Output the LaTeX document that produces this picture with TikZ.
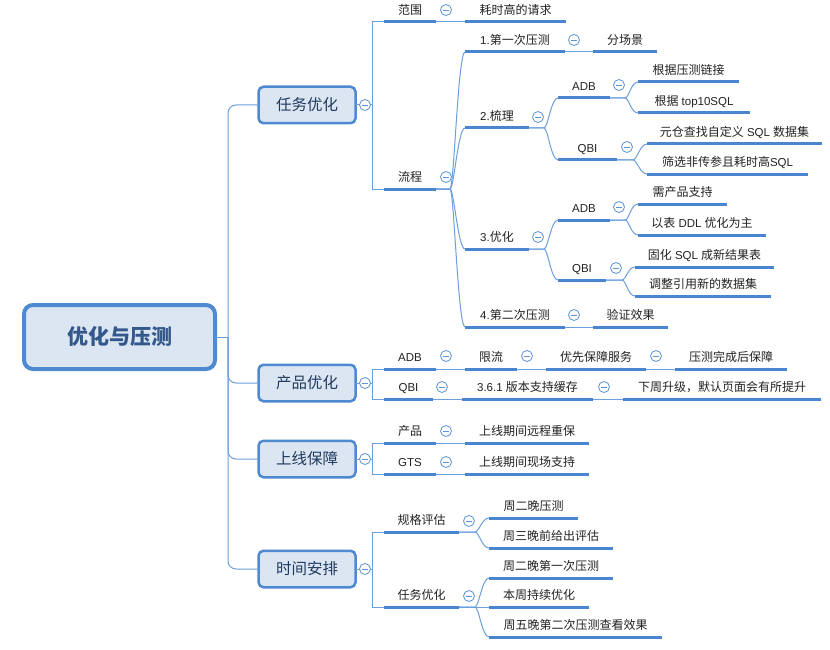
\documentclass[tikz,border=0pt]{standalone}
\usepackage{fontspec}
\setmainfont{Noto Sans CJK SC}
\newfontfamily\latf{Liberation Sans}
\newcommand\lat[1]{{\latf\fontsize{11.5pt}{14pt}\selectfont #1}}
\definecolor{ul}{HTML}{4A86CF}
\definecolor{cn}{HTML}{6C9FDC}
\definecolor{cc}{HTML}{5B93D6}
\definecolor{bd}{HTML}{4F8AD0}
\definecolor{bf}{HTML}{DCE6F2}
\definecolor{tx}{HTML}{222222}
\definecolor{t1}{HTML}{1F3A5F}
\definecolor{t0}{HTML}{34588C}
\newcommand\fsleaf{\fontsize{12pt}{14pt}\selectfont}
\newcommand\fsone{\fontsize{15.5pt}{18pt}\selectfont}
\newcommand\fsroot{\fontsize{21pt}{24pt}\selectfont}
\newcommand\mleaf[5]{\pgfmathsetmacro\mlw{#3-#2}\pgfmathsetmacro\mlc{(#2+#3)/2}%
  \node[leaf, minimum width=\mlw pt] (#1) at (\mlc,#4) {#5};
  \draw[uline] (#1.south west) -- (#1.south east);}
\newcommand\mfan[3]{\draw[conn] (#1.south east) -- ++(#2,0) .. controls +(4,0) and +(-7,0) .. (#3.south west);}
\newcommand\mlink[2]{\draw[conn] (#1.south east) -- (#2.south west);}
\newcommand\mcirc[3]{\node[circ] (#1) at (#2,#3) {};}
\begin{document}
\begin{tikzpicture}[x=1pt,y=-1pt,
 conn/.style={draw=cn, line width=1pt},
 uline/.style={draw=ul, line width=3pt},
 leaf/.style={anchor=south, inner xsep=0pt, inner ysep=5.5pt, outer sep=0pt, text height=9pt, text depth=2pt, font=\fsleaf, text=tx},
 circ/.style={circle, draw=cc, fill=white, line width=0.8pt, minimum size=11pt, inner sep=0pt,
   path picture={\draw[cc, line width=0.8pt] ([xshift=-2.8pt]path picture bounding box.center) -- ([xshift=2.8pt]path picture bounding box.center);}},
 l1/.style={draw=bd, fill=bf, line width=2.5pt, rounded corners=5pt, minimum width=97pt, minimum height=36.5pt, inner sep=0pt, outer sep=0pt, font=\fsone, text=t1},
 rootbox/.style={draw=bd, fill=bf, line width=4pt, rounded corners=9pt, minimum width=191pt, minimum height=64pt, inner sep=0pt, outer sep=0pt, font=\fsroot\bfseries, text=t0}
]
\useasboundingbox (0,0) rectangle (830,650);
\fill[white] (0,0) rectangle (830,650);

% root and level 1
\node[rootbox] (root) at (119.5,337) {优化与压测};
\node[l1] (rw) at (307,105) {任务优化};
\node[l1] (cp) at (307,383) {产品优化};
\node[l1] (sx) at (307,459) {上线保障};
\node[l1] (sj) at (307,569) {时间安排};
\coordinate (rt) at (228,337);
\draw[conn] (root.east) -- (rt);
\draw[conn, rounded corners=8pt] (rt) |- (rw.west);
\draw[conn, rounded corners=8pt] (rt) |- (cp.west);
\draw[conn, rounded corners=8pt] (rt) |- (sx.west);
\draw[conn, rounded corners=8pt] (rt) |- (sj.west);

% 任务优化
\mleaf{fw}{384}{436}{22}{范围}
\mleaf{hsg}{465}{566}{22}{耗时高的请求}
\mleaf{lc}{384}{436}{189}{流程}
\mleaf{s1}{465}{565}{52}{\lat{1.}第一次压测}
\mleaf{fcj}{593}{657}{52}{分场景}
\mleaf{s2}{465}{529}{128}{\lat{2.}梳理}
\mleaf{s2a}{558}{610}{98}{\lat{ADB}}
\mleaf{s2aa}{638}{739}{82}{根据压测链接}
\mleaf{s2ab}{638}{750}{113}{根据\lat{ top10SQL}}
\mleaf{s2q}{558}{617}{160}{\lat{QBI}}
\mleaf{s2qa}{647}{822}{144}{元仓查找自定义\lat{ SQL }数据集}
\mleaf{s2qb}{647}{808}{174}{筛选非传参且耗时高\lat{SQL}}
\mleaf{s3}{465}{529}{249}{\lat{3.}优化}
\mleaf{s3a}{558}{610}{220}{\lat{ADB}}
\mleaf{s3aa}{638}{727}{204}{需产品支持}
\mleaf{s3ab}{638}{766}{235}{以表\lat{ DDL }优化为主}
\mleaf{s3q}{558}{606}{280}{\lat{QBI}}
\mleaf{s3qa}{635}{774}{267}{固化\lat{ SQL }成新结果表}
\mleaf{s3qb}{635}{771}{296}{调整引用新的数据集}
\mleaf{s4}{465}{565}{327}{\lat{4.}第二次压测}
\mleaf{yz}{593}{668}{327}{验证效果}
\coordinate (j1) at (372,105);
\draw[conn] (rw.east) -- (j1);
\draw[conn] (j1) |- (fw.south west);
\draw[conn] (j1) |- (lc.south west);
\mlink{fw}{hsg}
\mfan{lc}{14}{s1}
\mfan{lc}{14}{s2}
\mfan{lc}{14}{s3}
\mfan{lc}{14}{s4}
\mlink{s1}{fcj}
\mlink{s4}{yz}
\mfan{s2}{15}{s2a}
\mfan{s2}{15}{s2q}
\mfan{s2a}{15}{s2aa}
\mfan{s2a}{15}{s2ab}
\mfan{s2q}{16}{s2qa}
\mfan{s2q}{16}{s2qb}
\mfan{s3}{15}{s3a}
\mfan{s3}{15}{s3q}
\mfan{s3a}{15}{s3aa}
\mfan{s3a}{15}{s3ab}
\mfan{s3q}{16}{s3qa}
\mfan{s3q}{16}{s3qb}
\mcirc{c0}{365}{105}
\mcirc{c1}{446}{10}
\mcirc{c2}{446}{177}
\mcirc{c3}{574}{40}
\mcirc{c4}{538}{117}
\mcirc{c5}{619}{85}
\mcirc{c6}{627}{147}
\mcirc{c7}{538}{237}
\mcirc{c8}{619}{207}
\mcirc{c9}{616}{268}
\mcirc{c10}{574}{315}

% 产品优化
\mleaf{cpa}{384}{436}{369}{\lat{ADB}}
\mleaf{xl}{465}{517}{369}{限流}
\mleaf{yx}{546}{646}{369}{优先保障服务}
\mleaf{yc}{675}{787}{369}{压测完成后保障}
\mleaf{cpq}{384}{433}{399}{\lat{QBI}}
\mleaf{vc}{462}{593}{399}{\lat{3.6.1 }版本支持缓存}
\mleaf{xz}{623}{821}{399}{下周升级，默认页面会有所提升}
\coordinate (j2) at (372,383);
\draw[conn] (cp.east) -- (j2);
\draw[conn] (j2) |- (cpa.south west);
\draw[conn] (j2) |- (cpq.south west);
\mlink{cpa}{xl}
\mlink{xl}{yx}
\mlink{yx}{yc}
\mlink{cpq}{vc}
\mlink{vc}{xz}
\mcirc{c11}{365}{383}
\mcirc{c12}{446}{356}
\mcirc{c13}{527}{356}
\mcirc{c14}{656}{356}
\mcirc{c15}{442}{387}
\mcirc{c16}{604}{387}

% 上线保障
\mleaf{sxp}{384}{436}{443}{产品}
\mleaf{sxpa}{465}{589}{443}{上线期间远程重保}
\mleaf{sxg}{384}{436}{474}{\lat{GTS}}
\mleaf{sxga}{465}{589}{474}{上线期间现场支持}
\coordinate (j3) at (372,459);
\draw[conn] (sx.east) -- (j3);
\draw[conn] (j3) |- (sxp.south west);
\draw[conn] (j3) |- (sxg.south west);
\mlink{sxp}{sxpa}
\mlink{sxg}{sxga}
\mcirc{c17}{365}{459}
\mcirc{c18}{446}{431}
\mcirc{c19}{446}{462}

% 时间安排
\mleaf{gg}{384}{459}{532}{规格评估}
\mleaf{gga}{489}{578}{518}{周二晚压测}
\mleaf{ggb}{489}{613}{548}{周三晚前给出评估}
\mleaf{ry}{384}{459}{607}{任务优化}
\mleaf{rya}{489}{613}{578}{周二晚第一次压测}
\mleaf{ryb}{489}{589}{607}{本周持续优化}
\mleaf{ryc}{489}{662}{637}{周五晚第二次压测查看效果}
\coordinate (j4) at (372,569);
\draw[conn] (sj.east) -- (j4);
\draw[conn] (j4) |- (gg.south west);
\draw[conn] (j4) |- (ry.south west);
\mfan{gg}{16}{gga}
\mfan{gg}{16}{ggb}
\mfan{ry}{16}{rya}
\mlink{ry}{ryb}
\mfan{ry}{16}{ryc}
\mcirc{c20}{365}{569}
\mcirc{c21}{469}{521}
\mcirc{c22}{469}{596}
\end{tikzpicture}
\end{document}
